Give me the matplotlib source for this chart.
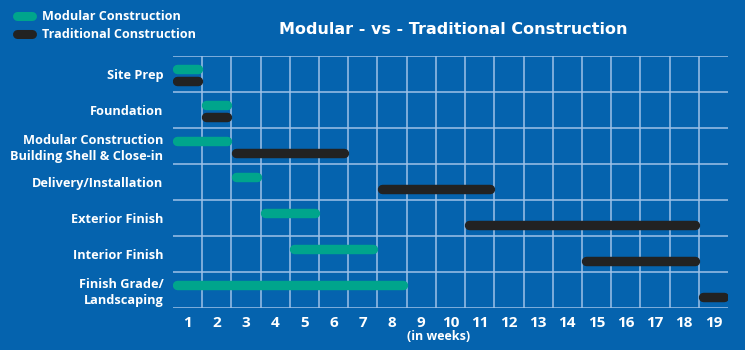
import matplotlib.pyplot as plt

# Schedule data: start week and duration (weeks) per phase
phases = ["Site Prep", "Foundation", "Modular Construction\nBuilding Shell & Close-in",
          "Delivery/Installation", "Exterior Finish", "Interior Finish",
          "Finish Grade/\nLandscaping"]
modular_start = [1, 2, 1, 3, 4, 5, 1]
modular_weeks = [1, 1, 2, 1, 2, 3, 8]
traditional_start = [1, 2, 3, 8, 11, 15, 19]
traditional_weeks = [1, 1, 4, 4, 8, 4, 1]
weeks = list(range(1, 20))

BG = "#0563AE"
TEAL = "#00A58C"
DARK = "#222222"
GRID = "#9EC2E8"
FONT = ["Open Sans", "DejaVu Sans"]

fig = plt.figure(figsize=(7.45, 3.5), dpi=100, facecolor=BG)
ax = fig.add_axes([173 / 745, 1 - 308 / 350, 555 / 745, 252 / 350])
ax.set_facecolor(BG)
ax.set_xlim(0.5, 19.5)
ax.set_ylim(len(phases) - 0.5, -0.5)
for s in ax.spines.values():
    s.set_visible(False)

# grid: column boundaries and row boundaries
for k in weeks[:-1]:
    ax.axvline(k + 0.5, color=GRID, lw=1.1, zorder=1)
for r in range(len(phases) + 1):
    ax.axhline(r - 0.5, color=GRID, lw=1.1, zorder=1)

inset = 0.14  # keep the round caps inside the week cells
bar_lw = 6.8
for i in range(len(phases)):
    x0 = modular_start[i] - 0.5
    x1 = x0 + modular_weeks[i]
    ax.hlines(i - 0.15, x0 + inset, x1 - inset, color=TEAL, lw=bar_lw,
              capstyle="round", zorder=3)
    x0 = traditional_start[i] - 0.5
    x1 = x0 + traditional_weeks[i]
    ax.hlines(i + 0.2, x0 + inset, x1 - inset, color=DARK, lw=bar_lw,
              capstyle="round", zorder=3)

ax.set_xticks(weeks)
ax.set_xticklabels([str(w) for w in weeks], color="white", fontsize=11,
                   fontweight="bold", family=FONT)
ax.set_yticks(range(len(phases)))
ax.set_yticklabels(phases, color="white", fontsize=9.2, fontweight="bold",
                   family=FONT, linespacing=1.25)
ax.tick_params(axis="y", length=0, pad=7)
ax.tick_params(axis="x", length=0, pad=6)

fig.text(439 / 745, 1 - 337 / 350, "(in weeks)", color="white", fontsize=9,
         fontweight="bold", family=FONT, ha="center", va="center")
fig.text(453 / 745, 1 - 29 / 350, "Modular - vs - Traditional Construction",
         color="white", fontsize=11.5, fontweight="bold", family="DejaVu Sans",
         ha="center", va="center")

# legend drawn by hand in figure coordinates
for yy, col, label in [(16, TEAL, "Modular Construction"),
                       (34, DARK, "Traditional Construction")]:
    fig.add_artist(plt.Line2D([17 / 745, 32 / 745], [1 - yy / 350] * 2,
                              color=col, lw=6.5, solid_capstyle="round"))
    fig.text(42 / 745, 1 - yy / 350, label, color="white", fontsize=9.1,
             fontweight="bold", family=FONT, ha="left", va="center")

fig.savefig("out.png", dpi=100, facecolor=BG)
